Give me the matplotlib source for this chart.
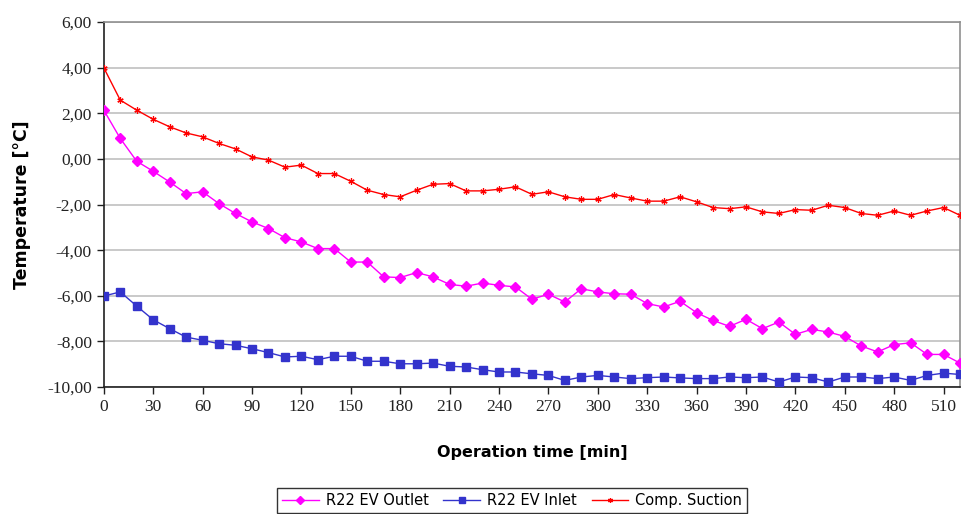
import matplotlib
matplotlib.use("Agg")
import matplotlib.pyplot as plt
from matplotlib.ticker import FuncFormatter

time_min = list(range(0, 521, 10))

ev_outlet = [2.14, 0.90, -0.10, -0.54, -1.01, -1.52, -1.44, -1.96, -2.39, -2.76,
             -3.05, -3.45, -3.64, -3.93, -3.93, -4.52, -4.52, -5.17, -5.20, -4.98,
             -5.17, -5.50, -5.58, -5.44, -5.54, -5.61, -6.15, -5.93, -6.27, -5.69,
             -5.83, -5.91, -5.93, -6.34, -6.49, -6.24, -6.74, -7.08, -7.34, -7.03,
             -7.44, -7.15, -7.69, -7.47, -7.59, -7.78, -8.20, -8.46, -8.14, -8.06,
             -8.57, -8.57, -8.95]

ev_inlet = [-6.01, -5.83, -6.45, -7.05, -7.44, -7.81, -7.95, -8.10, -8.17, -8.32,
            -8.49, -8.68, -8.65, -8.80, -8.65, -8.65, -8.87, -8.87, -8.98, -8.98,
            -8.95, -9.09, -9.12, -9.24, -9.34, -9.34, -9.42, -9.49, -9.71, -9.56,
            -9.49, -9.56, -9.63, -9.59, -9.56, -9.60, -9.63, -9.63, -9.56, -9.59,
            -9.56, -9.78, -9.56, -9.59, -9.78, -9.56, -9.56, -9.63, -9.56, -9.71,
            -9.49, -9.39, -9.45]

comp_suction = [4.00, 2.58, 2.14, 1.74, 1.41, 1.14, 0.97, 0.68, 0.44, 0.09,
                -0.05, -0.36, -0.27, -0.64, -0.64, -0.98, -1.37, -1.56, -1.66, -1.37,
                -1.11, -1.08, -1.40, -1.40, -1.33, -1.22, -1.55, -1.44, -1.66, -1.77,
                -1.77, -1.56, -1.71, -1.85, -1.85, -1.66, -1.88, -2.13, -2.18, -2.10,
                -2.32, -2.39, -2.22, -2.25, -2.03, -2.13, -2.39, -2.47, -2.28, -2.47,
                -2.28, -2.13, -2.47]

x_ticks = list(range(0, 511, 30))
y_ticks = list(range(-10, 7, 2))

fig = plt.figure(figsize=(9.61, 5.14), dpi=100)
ax = fig.add_axes([0.108, 0.247, 0.891, 0.710])

ax.plot(time_min, ev_outlet, color="#FF00FF", marker="D", markersize=5, lw=1.0,
        label="R22 EV Outlet", zorder=3)
ax.plot(time_min, ev_inlet, color="#3333CC", marker="s", markersize=5.5, lw=1.0,
        label="R22 EV Inlet", zorder=3)
ax.plot(time_min, comp_suction, color="#FF0000", marker=(6, 2, 0), markersize=4.5,
        mew=0.9, lw=1.0, label="Comp. Suction", zorder=3)

ax.set_xlim(0, 520)
ax.set_ylim(-10, 6)
ax.set_xticks(x_ticks)
ax.set_yticks(y_ticks)
ax.yaxis.set_major_formatter(FuncFormatter(lambda v, p: f"{v:.2f}".replace(".", ",")))

ax.grid(axis="y", color="#C0C0C0", lw=1.2)
ax.set_axisbelow(True)
for s in ["top", "right"]:
    ax.spines[s].set_color("#909090")
    ax.spines[s].set_linewidth(1.2)
for s in ["left", "bottom"]:
    ax.spines[s].set_color("#202020")
    ax.spines[s].set_linewidth(1.2)

ax.tick_params(axis="both", direction="out", length=5, width=1, color="#202020",
               labelsize=12.5, labelcolor="#222222")
for lab in ax.get_xticklabels() + ax.get_yticklabels():
    lab.set_fontfamily("Liberation Serif")

ax.set_xlabel("Operation time [min]", fontsize=11.5, fontweight="bold",
              family="DejaVu Sans", labelpad=22)
ax.set_ylabel("Temperature [°C]", fontsize=12.5, fontweight="bold",
              family="DejaVu Sans", labelpad=12)

leg = fig.legend(loc="lower center", bbox_to_anchor=(0.533, -0.012), ncol=3,
                 frameon=True, fancybox=False, edgecolor="black", fontsize=10.5,
                 markerscale=0.8, handlelength=2.5, columnspacing=1.0,
                 borderpad=0.35, handletextpad=0.5)
leg.get_frame().set_linewidth(1.0)

fig.savefig("out.png", dpi=100)
